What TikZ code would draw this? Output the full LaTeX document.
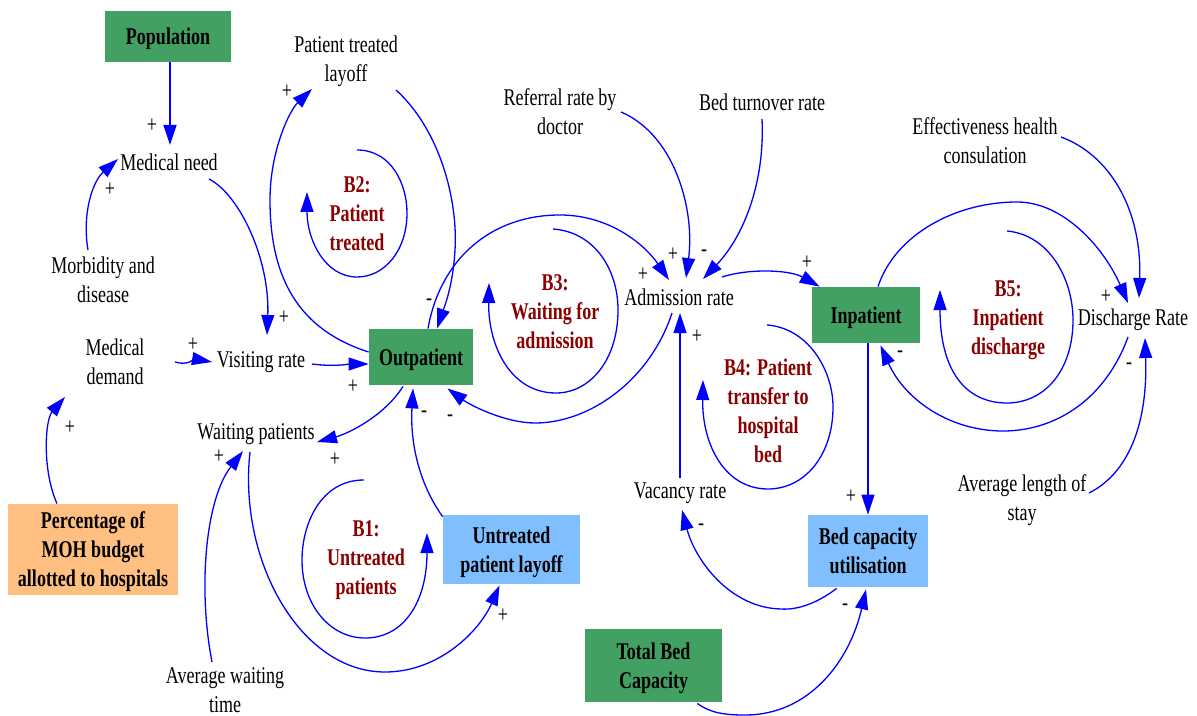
\documentclass[tikz,border=0pt]{standalone}
\usepackage{fontspec}
\setmainfont{Liberation Serif}[FakeStretch=0.75]
\usetikzlibrary{arrows.meta,calc}
\definecolor{stockgreen}{RGB}{67,160,99}
\definecolor{auxblue}{RGB}{128,191,255}
\definecolor{inputorange}{RGB}{255,191,128}
\definecolor{loopred}{RGB}{139,0,0}
\begin{document}
\begin{tikzpicture}[x=0.5pt,y=-0.5pt,
  every node/.style={font=\fontsize{12}{14.5}\selectfont},
  txt/.style={align=center,inner sep=0pt},
  boxnode/.style={align=center,inner sep=0pt,text depth=0pt,font=\fontsize{12}{14.5}\selectfont\bfseries},
  stock/.style={boxnode,fill=stockgreen},
  aux/.style={boxnode,fill=auxblue},
  inpt/.style={boxnode,fill=inputorange},
  looplabel/.style={align=center,inner sep=0pt,text=loopred,font=\fontsize{12}{14.5}\selectfont\bfseries},
  sgn/.style={inner sep=0pt},
  arr/.style={draw=blue,line width=0.65pt,-{Triangle[length=10pt,width=6.5pt]}},
  loopline/.style={draw=blue,line width=0.65pt}]
\useasboundingbox (0,0) rectangle (1197,716);

% stocks, auxiliaries and inputs
\node[stock,minimum width=63pt,minimum height=25.5pt] (pop) at (168,36.5) {Population};
\node[stock,minimum width=52pt,minimum height=28pt] (outp) at (421,357) {Outpatient};
\node[stock,minimum width=54pt,minimum height=28pt] (inp) at (866,315) {Inpatient};
\node[stock,minimum width=68.5pt,minimum height=36.5pt] (tbc) at (653.5,665.5) {Total Bed\\Capacity};
\node[aux,minimum width=68.5pt,minimum height=34.5pt] (upl) at (511.5,549.5) {Untreated\\patient layoff};
\node[aux,minimum width=60pt,minimum height=36pt] (bcu) at (868,551) {Bed capacity\\utilisation};
\node[inpt,minimum width=85pt,minimum height=45.5pt] (pct) at (93,549.5) {Percentage of\\MOH budget\\allotted to hospitals};

% variables
\node[txt] (ptl) at (346,61) {Patient treated\\layoff};
\node[txt] (medneed) at (169,162) {Medical need};
\node[txt] (morb) at (103,280) {Morbidity and\\disease};
\node[txt] (meddem) at (115,362) {Medical\\demand};
\node[txt] (visit) at (261,362) {Visiting rate};
\node[txt] (waitp) at (256,434) {Waiting patients};
\node[txt] (awt) at (225,690) {Average waiting\\time};
\node[txt] (ref) at (560,112) {Referral rate by\\doctor};
\node[txt] (btr) at (762,102) {Bed turnover rate};
\node[txt] (adm) at (679,297) {Admission rate};
\node[txt] (eff) at (985,141) {Effectiveness health\\consulation};
\node[txt] (dis) at (1133,320) {Discharge Rate};
\node[txt] (vac) at (680,493) {Vacancy rate};
\node[txt] (als) at (1022,500) {Average length of\\stay};

% loop labels
\node[looplabel] (b1) at (366,560) {B1:\\Untreated\\patients};
\node[looplabel] (b2) at (357,214) {B2:\\Patient\\treated};
\node[looplabel] (b3) at (555,312) {B3:\\Waiting for\\admission};
\node[looplabel] (b4) at (768,411) {B4: Patient\\transfer to\\hospital\\bed};
\node[looplabel] (b5) at (1008,320) {B5:\\Inpatient\\discharge};

% causal links
\draw[arr] ($(pop.south)+(2,0)$) -- ($(medneed)+(1,-17)$);
\draw[arr] ($(morb)+(-15,-30)$) .. controls (82,215) and (92,182) .. ($(medneed)+(-51,-3)$);
\draw[arr] ($(medneed)+(40,17)$) .. controls (240,195) and (270,260) .. ($(visit)+(6,-27)$);
\draw[arr] ($(meddem)+(60,0)$) .. controls (188,366) and (195,359) .. ($(visit)+(-49,0)$);
\draw[arr] ($(visit)+(51,2)$) .. controls (335,367) and (350,364) .. ($(outp.west)+(0,7)$);
\draw[arr] ($(outp.south)+(-18,1)$) .. controls (385,415) and (350,433) .. ($(waitp)+(61,8)$);
\draw[arr] ($(pct.north)+(-36,0)$) .. controls (42,470) and (45,420) .. ($(meddem)+(-50,35)$);
\draw[arr] ($(awt)+(-13,-28)$) .. controls (198,590) and (205,500) .. ($(waitp)+(-13,17)$);
\draw[arr] ($(waitp)+(-6,18)$) .. controls (238,560) and (300,672) .. (385,672)
  .. controls (440,672) and (480,630) .. ($(upl.south)+(-12,1)$);
\draw[arr] ($(upl.north west)+(0,2)$) .. controls (420,485) and (410,445) .. ($(outp.south)+(-8,3)$);
\draw[arr] ($(outp.west)+(0,-5)$) .. controls (300,330) and (270,280) .. (270,200)
  .. controls (270,150) and (290,110) .. ($(ptl)+(-34,28)$);
\draw[arr] ($(ptl)+(50,29)$) .. controls (440,130) and (458,200) .. (455,250)
  .. controls (453,285) and (445,305) .. ($(outp.north)+(16,0)$);
\draw[arr] ($(outp.north)+(7,0)$) .. controls (440,260) and (490,215) .. (560,215)
  .. controls (610,215) and (645,245) .. ($(adm)+(-10,-17)$);
\draw[arr] ($(ref)+(61,0)$) .. controls (675,135) and (695,210) .. ($(adm)+(7,-19)$);
\draw[arr] ($(btr)+(0,17)$) .. controls (765,180) and (745,235) .. ($(adm)+(24,-18)$);
\draw[arr] ($(adm)+(43,-20)$) .. controls (750,268) and (790,270) .. ($(inp.north west)+(8,0)$);
\draw[arr] ($(adm)+(-7,16)$) .. controls (650,380) and (590,423) .. (535,423)
  .. controls (505,423) and (470,405) .. ($(outp.south east)+(-26,3)$);
\draw[arr] ($(vac)+(0,-15)$) -- ($(adm)+(1,16)$);
\draw[arr] ($(inp.south)+(2,0)$) -- (bcu.north);
\draw[arr] ($(bcu.south west)+(29,1)$) .. controls (815,605) and (795,610) .. (781,609)
  .. controls (730,608) and (695,560) .. ($(vac)+(2,17)$);
\draw[arr] ($(tbc.south east)+(-25,1)$) .. controls (710,713) and (725,715) .. (745,715)
  .. controls (810,715) and (850,660) .. ($(bcu.south)+(-2,2)$);
\draw[arr] ($(eff)+(76,-4)$) .. controls (1110,155) and (1142,210) .. ($(dis)+(6,-22)$);
\draw[arr] ($(inp.north)+(12,0)$) .. controls (895,235) and (955,202) .. (1017,202)
  .. controls (1065,202) and (1105,250) .. ($(dis)+(-5,-17)$);
\draw[arr] ($(dis)+(-5,17)$) .. controls (1105,400) and (1055,431) .. (1003,431)
  .. controls (950,431) and (905,400) .. ($(inp.south east)+(-40,2)$);
\draw[arr] ($(als)+(67,-7)$) .. controls (1125,475) and (1148,430) .. ($(dis)+(12,18)$);

% loop circles
\draw[loopline,-{Triangle[length=10pt,width=6.5pt]}] (364,480) .. controls (320,480) and (302,525) .. (302,560)
  .. controls (302,605) and (330,638) .. (365,638) .. controls (405,638) and (427,600) .. (427,533);
\draw[loopline,-{Triangle[length=10pt,width=6.5pt]}] (357,150) .. controls (392,150) and (407,185) .. (407,213)
  .. controls (407,250) and (385,277) .. (357,277) .. controls (325,277) and (307,240) .. (307,192);
\draw[loopline,-{Triangle[length=10pt,width=6.5pt]}] (553,229) .. controls (595,232) and (618,270) .. (618,310)
  .. controls (618,360) and (590,393) .. (556,393) .. controls (510,393) and (488,345) .. (489,283);
\draw[loopline,-{Triangle[length=10pt,width=6.5pt]}] (767,325) .. controls (808,328) and (833,370) .. (833,407)
  .. controls (833,455) and (805,489) .. (768,489) .. controls (725,489) and (702,445) .. (703,380);
\draw[loopline,-{Triangle[length=10pt,width=6.5pt]}] (1007,231) .. controls (1050,235) and (1073,280) .. (1073,320)
  .. controls (1073,370) and (1045,403) .. (1007,403) .. controls (965,403) and (940,370) .. (940,290);

% link polarities
\node[sgn] (s1) at (152,126) {+};
\node[sgn] (s2) at (110,190) {+};
\node[sgn] (s3) at (284,318) {+};
\node[sgn] (s4) at (193,345) {+};
\node[sgn] (s5) at (353,387) {+};
\node[sgn] (s6) at (335,460) {+};
\node[sgn] (s7) at (70,428) {+};
\node[sgn] (s8) at (219,457) {+};
\node[sgn] (s9) at (503,616) {+};
\node[sgn] (s10) at (424,414) {-};
\node[sgn] (s11) at (450,418) {-};
\node[sgn] (s12) at (287,92) {+};
\node[sgn] (s13) at (429,302) {-};
\node[sgn] (s14) at (643,275) {+};
\node[sgn] (s15) at (673,255) {+};
\node[sgn] (s16) at (704,253) {-};
\node[sgn] (s17) at (807,263) {+};
\node[sgn] (s18) at (697,337) {+};
\node[sgn] (s19) at (851,497) {+};
\node[sgn] (s20) at (701,527) {-};
\node[sgn] (s21) at (845,607) {-};
\node[sgn] (s22) at (1106,297) {+};
\node[sgn] (s23) at (900,354) {-};
\node[sgn] (s24) at (1129,366) {-};
\end{tikzpicture}
\end{document}
